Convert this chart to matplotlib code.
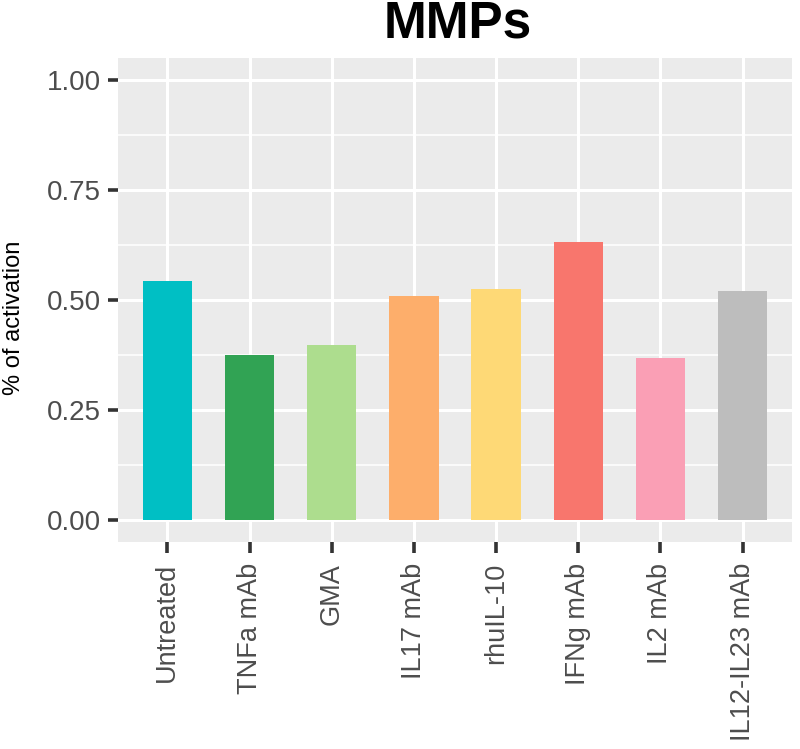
import matplotlib
matplotlib.use("Agg")
import matplotlib.pyplot as plt
import numpy as np

categories = ["Untreated", "TNFa mAb", "GMA", "IL17 mAb", "rhuIL-10", "IFNg mAb", "IL2 mAb", "IL12-IL23 mAb"]
values = [0.544, 0.376, 0.398, 0.509, 0.525, 0.631, 0.368, 0.521]
colors = ["#00BFC4", "#31A354", "#ADDD8E", "#FDAE6B", "#FED976", "#F8766D", "#FA9FB5", "#BDBDBD"]
yticks = [0.0, 0.25, 0.5, 0.75, 1.0]
ytick_labels = ["0.00", "0.25", "0.50", "0.75", "1.00"]

plt.rcParams['font.family'] = ['Liberation Sans', 'DejaVu Sans']

fig = plt.figure(figsize=(8, 7.49), dpi=100)
ax = fig.add_axes([118/800, 1 - 542/749, (792-118)/800, (542-58)/749])
ax.set_facecolor("#EBEBEB")

x = np.arange(len(categories))
ax.bar(x, values, width=0.6, color=colors, zorder=3)

ax.set_xlim(-0.6, len(categories) - 1 + 0.6)
ax.set_ylim(-0.05, 1.05)
ax.set_yticks(yticks)
ax.set_yticklabels(ytick_labels)
ax.set_yticks([0.125, 0.375, 0.625, 0.875], minor=True)
ax.set_xticks(x)
ax.set_xticklabels(categories, rotation=90)

ax.grid(which='major', color='white', linewidth=2.2, zorder=0)
ax.grid(which='minor', axis='y', color='white', linewidth=1.1, zorder=0)
ax.set_axisbelow(True)
for s in ax.spines.values():
    s.set_visible(False)

ax.tick_params(axis='y', which='major', length=7, width=2.6, color='#333333',
               labelsize=20, labelcolor='#4D4D4D', pad=5)
ax.tick_params(axis='x', which='major', length=8, width=2.6, color='#333333',
               labelsize=19.5, labelcolor='#4D4D4D', pad=7)
ax.tick_params(which='minor', length=0)

fig.text(14/800, 1 - 318/749, "% of activation", rotation=90, ha='center', va='center',
         fontsize=17, color='black')
fig.text(458/800, 1 - 37/749, "MMPs", ha='center', va='baseline', fontsize=37, fontweight='bold')

fig.savefig("out.png", dpi=100)
